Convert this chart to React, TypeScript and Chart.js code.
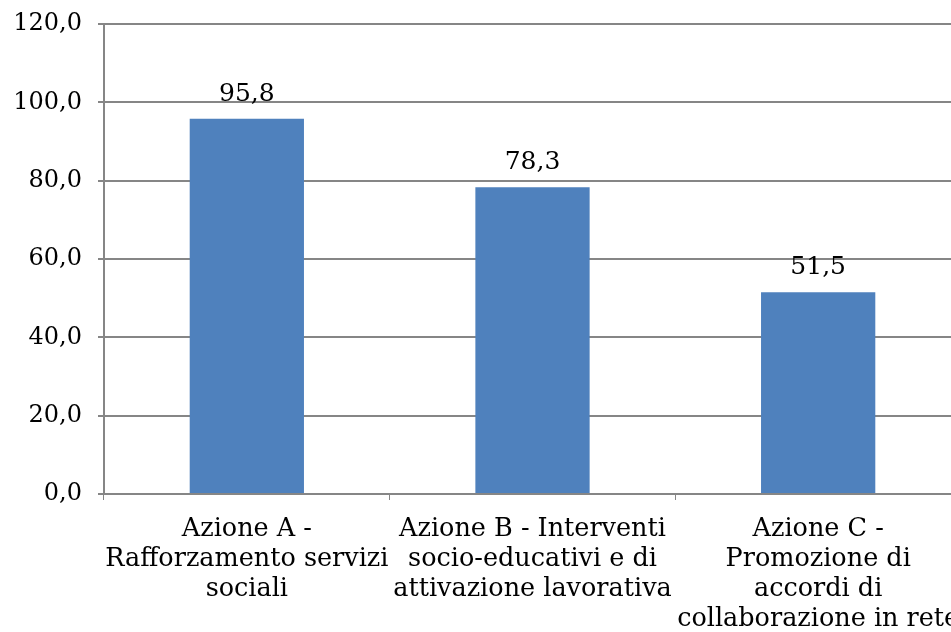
import React, { useEffect, useRef } from "react";
import { Chart, registerables } from "chart.js";

Chart.register(...registerables);

const categories: string[][] = [
  ["Azione A -", "Rafforzamento servizi", "sociali"],
  ["Azione B - Interventi", "socio-educativi e di", "attivazione lavorativa"],
  ["Azione C -", "Promozione di", "accordi di", "collaborazione in rete"],
];
const values: number[] = [95.8, 78.3, 51.5];
const yMin = 0;
const yMax = 120;
const yStep = 20;

const fmt = (v: number) => v.toFixed(1).replace(".", ",");

const W = 975;
const H = 632;
const FONT = "'DejaVu Serif', serif";

const valueLabels = {
  id: "valueLabels",
  afterDatasetsDraw(chart: any) {
    const ctx = chart.ctx;
    const meta = chart.getDatasetMeta(0);
    ctx.save();
    ctx.font = `25px ${FONT}`;
    ctx.fillStyle = "#000";
    ctx.textAlign = "center";
    ctx.textBaseline = "alphabetic";
    meta.data.forEach((bar: any, i: number) => {
      ctx.fillText(fmt(values[i]), bar.x, bar.y - 18);
    });
    ctx.restore();
  },
};

export default function App() {
  const ref = useRef<HTMLCanvasElement>(null);
  useEffect(() => {
    if (!ref.current) return;
    const chart = new Chart(ref.current, {
      type: "bar",
      data: {
        labels: categories,
        datasets: [
          {
            data: values,
            backgroundColor: "#4F81BD",
            borderWidth: 0,
            categoryPercentage: 1,
            barPercentage: 0.4,
          },
        ],
      },
      options: {
        responsive: false,
        animation: false,
        devicePixelRatio: 1,
        layout: { padding: { left: 0, right: W - 961, top: 24, bottom: 0 } },
        plugins: { legend: { display: false }, tooltip: { enabled: false } },
        scales: {
          x: {
            offset: true,
            grid: {
              display: true,
              drawOnChartArea: false,
              drawTicks: true,
              tickLength: 6,
              color: "#868686",
              offset: true,
            },
            border: { display: true, color: "#868686", width: 2 },
            ticks: {
              autoSkip: false,
              maxRotation: 0,
              minRotation: 0,
              padding: 14,
              color: "#000",
              font: { family: FONT, size: 25.5, lineHeight: 1.18 },
            },
            afterFit: (s: any) => {
              s.height = H - 494;
              s.paddingLeft = 0;
              s.paddingRight = 0;
            },
          },
          y: {
            min: yMin,
            max: yMax,
            ticks: {
              stepSize: yStep,
              padding: 16,
              color: "#000",
              font: { family: FONT, size: 24 },
              callback: (v: any) => fmt(Number(v)),
            },
            grid: { color: "#868686", lineWidth: 2, tickLength: 6 },
            border: { display: true, color: "#868686", width: 2 },
            afterFit: (s: any) => {
              s.width = 104;
              s.paddingTop = 0;
              s.paddingBottom = 0;
            },
          },
        },
      },
      plugins: [valueLabels],
    });
    return () => chart.destroy();
  }, []);
  return (
    <div
      style={{
        position: "fixed",
        left: 0,
        top: 0,
        width: 951,
        height: 632,
        overflow: "hidden",
        background: "#fff",
      }}
    >
      <canvas ref={ref} width={W} height={H} style={{ display: "block" }} />
    </div>
  );
}
